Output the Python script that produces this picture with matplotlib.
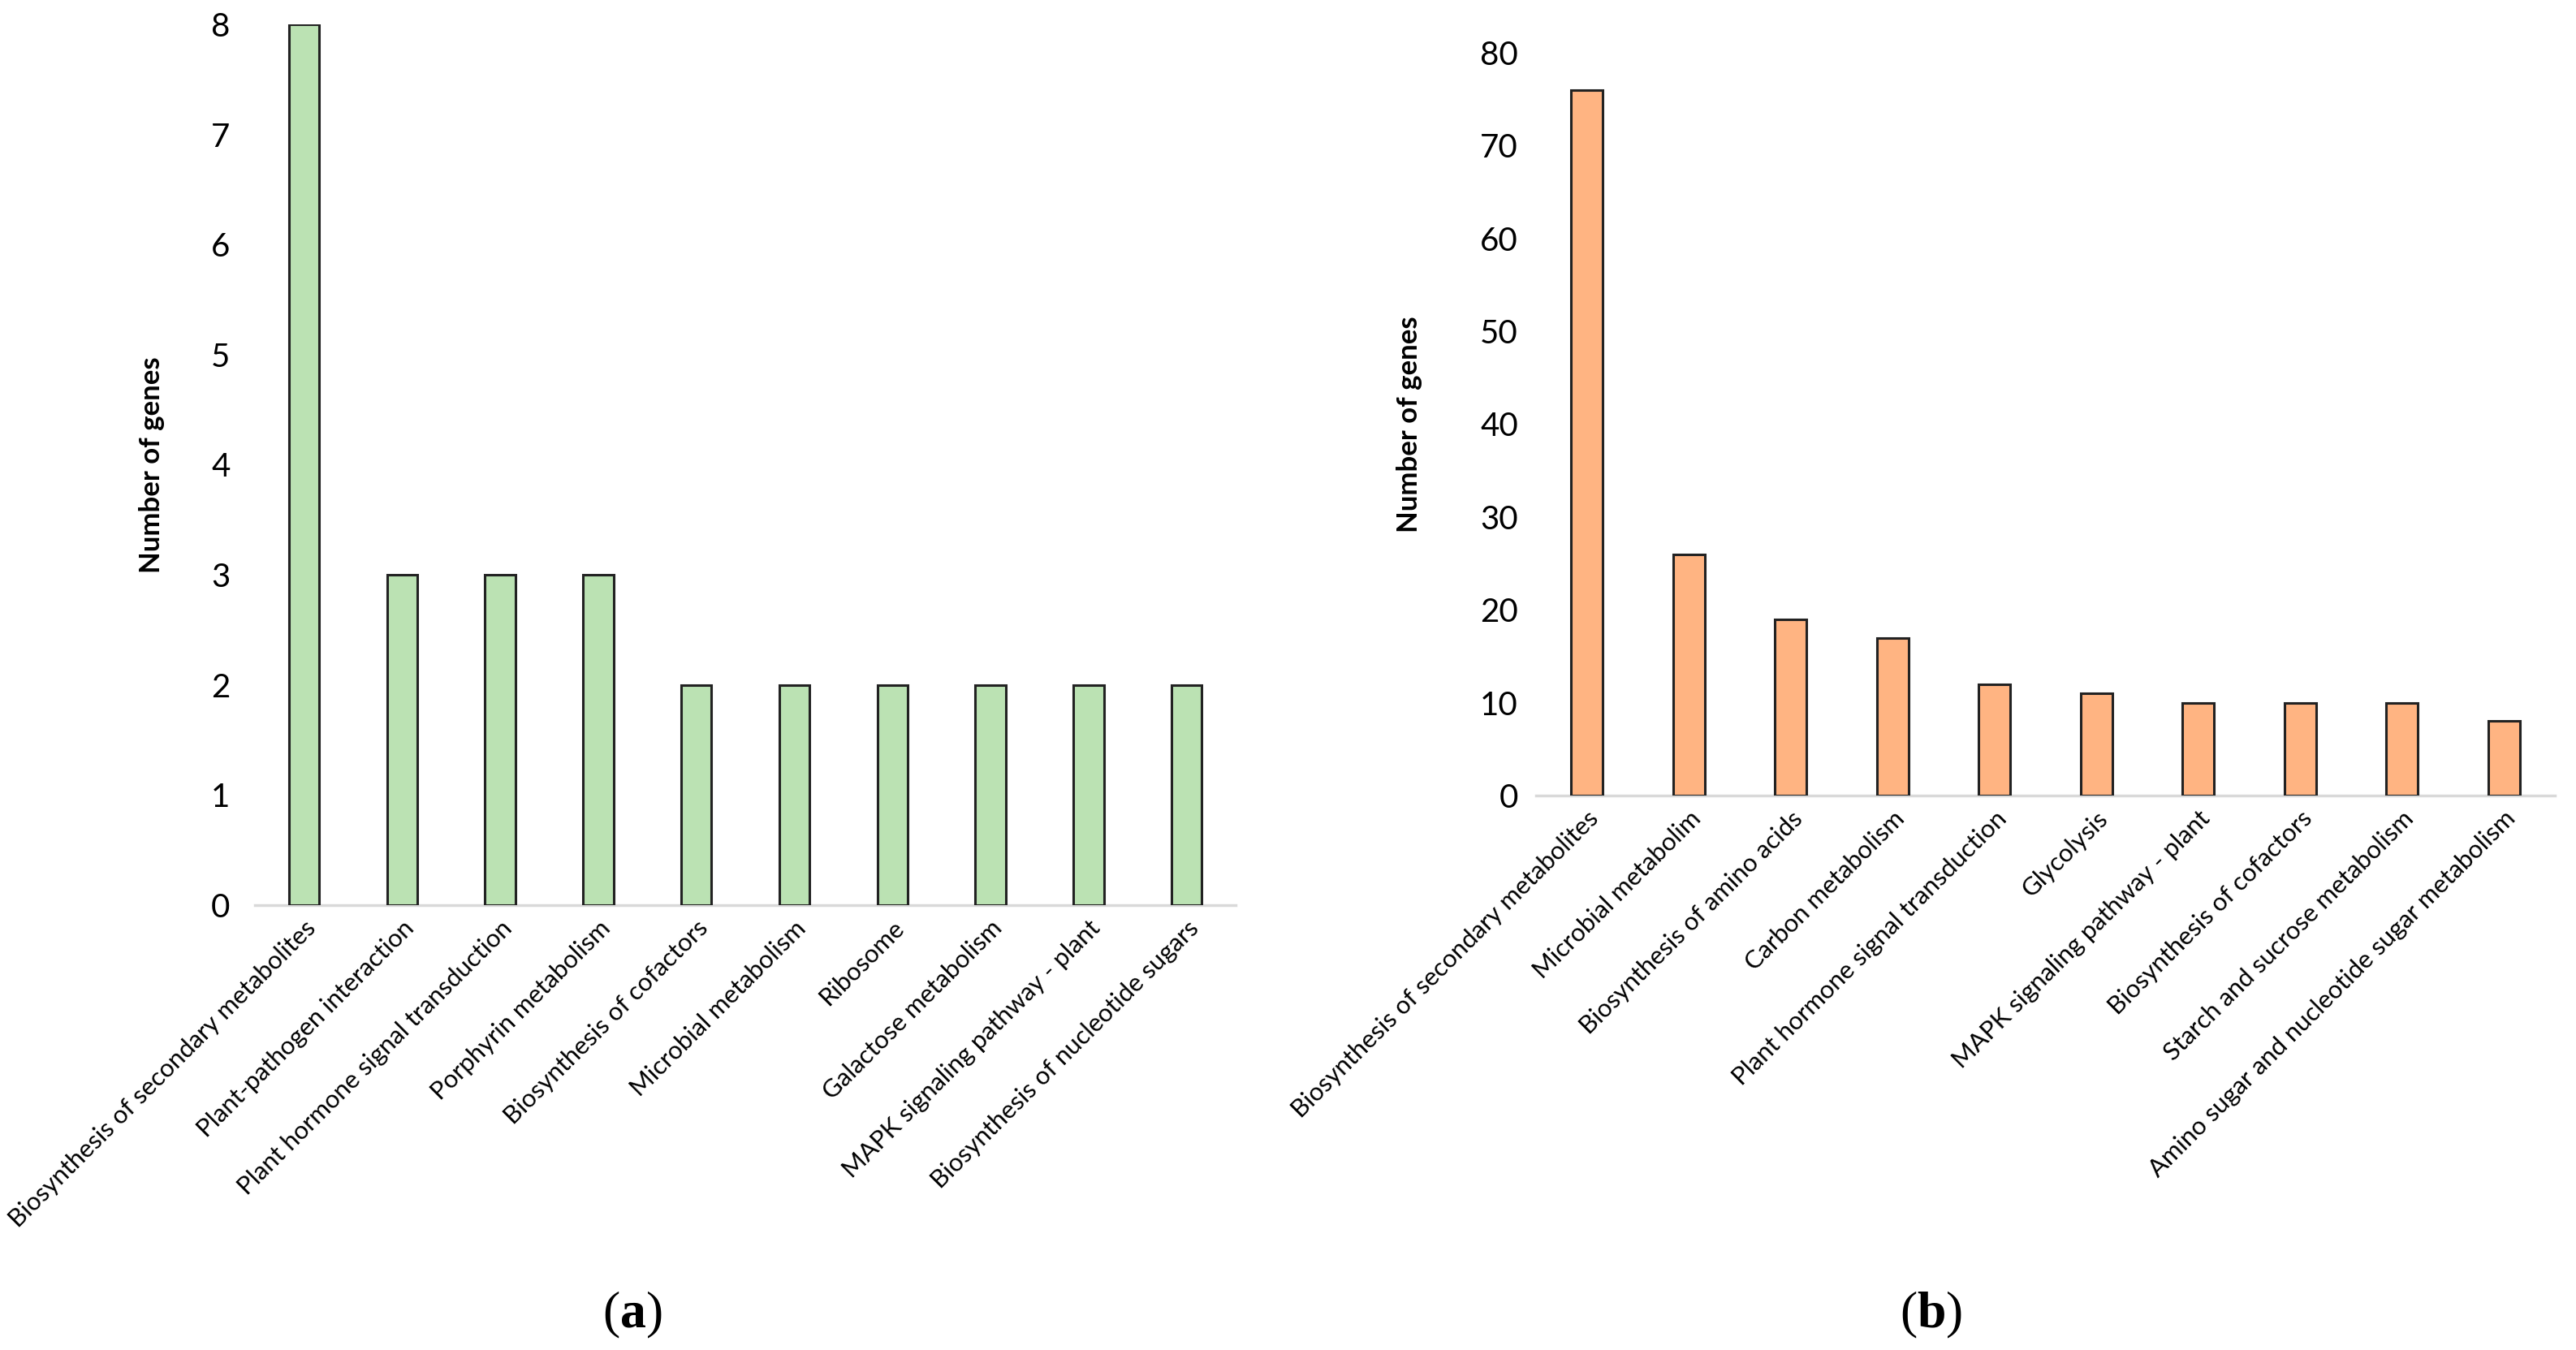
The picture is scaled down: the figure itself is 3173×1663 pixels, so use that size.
import matplotlib.pyplot as plt
import numpy as np

plt.rcParams['font.family'] = ['Lato', 'DejaVu Sans']
plt.rcParams['mathtext.fontset'] = 'custom'
plt.rcParams['mathtext.rm'] = 'Liberation Serif'
plt.rcParams['mathtext.bf'] = 'Liberation Serif:bold'

# panel (a)
pathways_a = ['Biosynthesis of secondary metabolites', 'Plant-pathogen interaction',
              'Plant hormone signal transduction', 'Porphyrin metabolism',
              'Biosynthesis of cofactors', 'Microbial metabolism', 'Ribosome',
              'Galactose metabolism', 'MAPK signaling pathway - plant',
              'Biosynthesis of nucleotide sugars']
genes_a = [8, 3, 3, 3, 2, 2, 2, 2, 2, 2]
yticks_a = [0, 1, 2, 3, 4, 5, 6, 7, 8]

# panel (b)
pathways_b = ['Biosynthesis of secondary metabolites', 'Microbial metabolim',
              'Biosynthesis of amino acids', 'Carbon metabolism',
              'Plant hormone signal transduction', 'Glycolysis',
              'MAPK signaling pathway - plant', 'Biosynthesis of cofactors',
              'Starch and sucrose metabolism', 'Amino sugar and nucleotide sugar metabolism']
genes_b = [76, 26, 19, 17, 12, 11, 10, 10, 10, 8]
yticks_b = [0, 10, 20, 30, 40, 50, 60, 70, 80]

fig = plt.figure(figsize=(31.73, 16.63), dpi=100)
ax1 = fig.add_axes([0.099, 0.3295, 0.3807, 0.6525])
ax2 = fig.add_axes([0.5963, 0.4107, 0.3955, 0.5503])


def draw(ax, names, vals, ticks, color, pad, labx):
    x = np.arange(len(names))
    ax.bar(x, vals, width=0.31, color=color, edgecolor='#222222', linewidth=2.2, zorder=3)
    ax.set_xlim(-0.5, len(names) - 0.5)
    ax.set_ylim(ticks[0], ticks[-1])
    ax.set_yticks(ticks)
    ax.set_yticklabels([str(t) for t in ticks], fontsize=29)
    ax.tick_params(axis='y', length=0, pad=pad)
    ax.tick_params(axis='x', length=0, pad=10)
    ax.set_xticks(x)
    ax.set_xticklabels(names, rotation=45, ha='right', va='top',
                       rotation_mode='anchor', fontsize=22.3)
    for s in ['top', 'right', 'left']:
        ax.spines[s].set_visible(False)
    ax.spines['bottom'].set_color('#d9d9d9')
    ax.spines['bottom'].set_linewidth(2.5)
    ax.set_ylabel('Number of genes', fontsize=25, fontweight='bold')
    ax.yaxis.set_label_coords(labx, 0.5)


draw(ax1, pathways_a, genes_a, yticks_a, '#bbe2b3', 22, -0.092)
draw(ax2, pathways_b, genes_b, yticks_b, '#ffb482', 16, -0.112)

fig.text(0.2455, 0.026, r'$\mathrm{(}\mathbf{a}\mathrm{)}$', fontsize=46, ha='center', va='center')
fig.text(0.7495, 0.026, r'$\mathrm{(}\mathbf{b}\mathrm{)}$', fontsize=46, ha='center', va='center')

fig.savefig('out.png', dpi=100)
